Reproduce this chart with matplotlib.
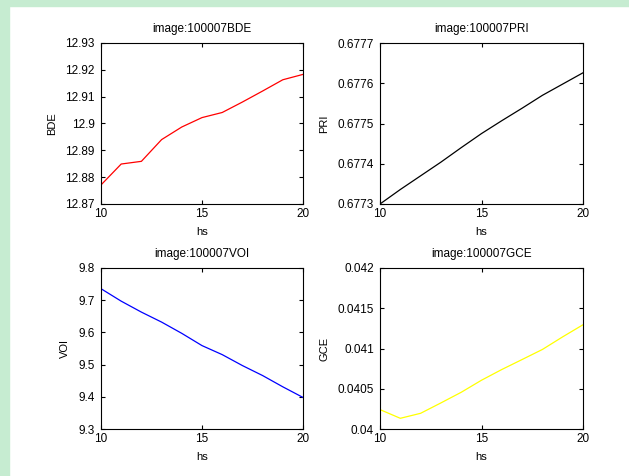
import numpy as np
import matplotlib
matplotlib.use("Agg")
import matplotlib.pyplot as plt
from matplotlib.ticker import FuncFormatter

# hs values shared by all four panels
hs = [10, 11, 12, 13, 14, 15, 16, 17, 18, 19, 20]

bde = [12.8771, 12.8849, 12.8859, 12.8940, 12.8987, 12.9022,
       12.9041, 12.9080, 12.9121, 12.9163, 12.9183]
pri = [0.677300, 0.677336, 0.677370, 0.677404, 0.677440, 0.677475,
       0.677507, 0.677538, 0.677570, 0.677598, 0.677626]
voi = [9.7357, 9.697, 9.663, 9.632, 9.597, 9.559,
       9.531, 9.497, 9.466, 9.431, 9.398]
gce = [0.040241, 0.040133, 0.040195, 0.040324, 0.040456, 0.040606,
       0.040739, 0.040863, 0.040988, 0.041145, 0.041295]

bde_ticks = [12.87, 12.88, 12.89, 12.90, 12.91, 12.92, 12.93]
pri_ticks = [0.6773, 0.6774, 0.6775, 0.6776, 0.6777]
voi_ticks = [9.3, 9.4, 9.5, 9.6, 9.7, 9.8]
gce_ticks = [0.040, 0.0405, 0.041, 0.0415, 0.042]
x_ticks = [10, 15, 20]

plt.rcParams['font.family'] = ['Liberation Sans', 'DejaVu Sans']
plt.rcParams['font.size'] = 8

W, H = 629, 476
fig = plt.figure(figsize=(W / 100, H / 100), dpi=100)
fig.patch.set_facecolor('white')

# green frame on top and left (screenshot border)
green = '#c6ecd1'
fig.add_artist(plt.Rectangle((0, 1 - 6 / H), 1, 6 / H, transform=fig.transFigure,
                             color=green, zorder=0))
fig.add_artist(plt.Rectangle((0, 0), 9 / W, 1, transform=fig.transFigure,
                             color=green, zorder=0))


def px_axes(x0, x1, y0, y1):
    return fig.add_axes([x0 / W, (H - y1) / H, (x1 - x0) / W, (y1 - y0) / H])


panels = [
    ((101, 303, 43, 204), bde, '#ff0000', 'BDE', bde_ticks),
    ((380, 583, 43, 204), pri, '#000000', 'PRI', pri_ticks),
    ((101, 303, 268, 429), voi, '#0000ff', 'VOI', voi_ticks),
    ((380, 583, 268, 429), gce, '#ffff00', 'GCE', gce_ticks),
]

fmt = FuncFormatter(lambda v, p: '%g' % round(v, 6))

for box, vals, col, name, yt in panels:
    ax = px_axes(*box)
    ax.plot(hs, vals, color=col, lw=0.9)
    ax.set_xlim(10, 20)
    ax.set_ylim(yt[0], yt[-1])
    ax.set_xticks(x_ticks)
    ax.set_yticks(yt)
    ax.yaxis.set_major_formatter(fmt)
    ax.tick_params(direction='in', length=3, width=0.8, top=True, right=True,
                   labelsize=8.5)
    ax.tick_params(axis='x', pad=3)
    ax.tick_params(axis='y', pad=4.5)
    for s in ax.spines.values():
        s.set_linewidth(0.8)
    ax.set_title('image:100007' + name, fontsize=8.5, pad=8)
    ax.set_xlabel('hs', fontsize=8, labelpad=5)
    ax.set_ylabel(name, fontsize=8, labelpad=6)

fig.savefig('out.png', dpi=100)
